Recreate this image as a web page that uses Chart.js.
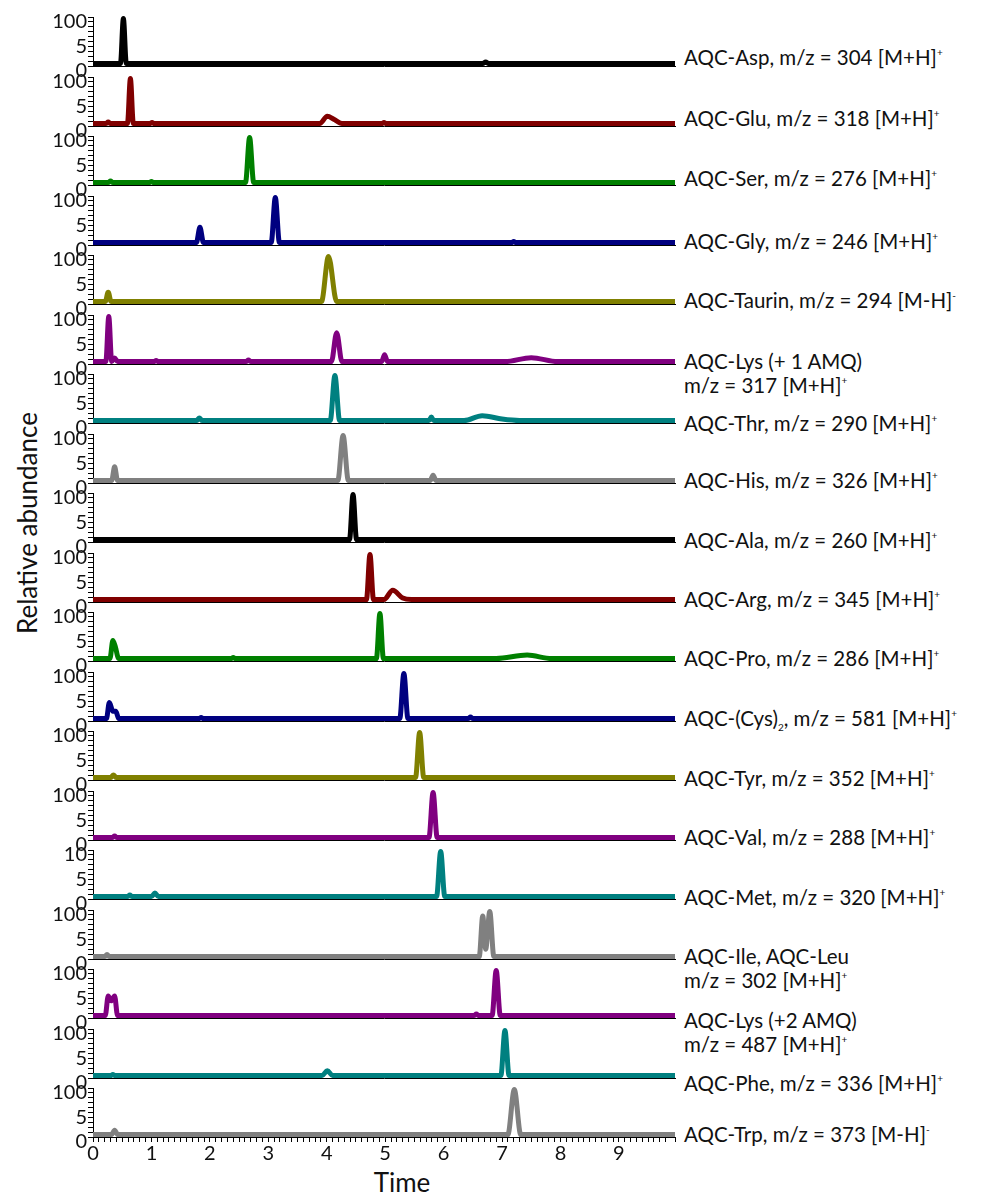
<!DOCTYPE html>
<html>
<head>
<meta charset="utf-8">
<script src="https://cdn.jsdelivr.net/npm/chart.js@4.4.1/dist/chart.umd.min.js"></script>
<style>
  body { margin: 0; background: #fff; font-family: Lato, sans-serif; }
  #wrap { position: relative; width: 989px; height: 1195px; overflow: hidden; }
  canvas { position: absolute; left: 0; }
  .lbl { position: absolute; left: 684px; font-size: 20.5px; line-height: 24px; color: #111; white-space: nowrap; }
  .lbl sup { font-size: 10px; position: relative; top: -9px; vertical-align: 0; }
  .lbl sub { font-size: 10px; position: relative; top: 5px; vertical-align: 0; }
  #ytitle { position: absolute; left: 27px; top: 523px; transform: translate(-50%, -50%) rotate(-90deg); font-size: 26px; color: #111; white-space: nowrap; }
  #xtitle { position: absolute; left: 402px; top: 1182px; transform: translate(-50%, -50%); font-size: 26px; color: #111; }
</style>
</head>
<body>
<div id="wrap">
  <div id="ytitle">Relative abundance</div>
  <div id="xtitle">Time</div>
</div>
<script>
// retention time (min) vs relative abundance (%), one list per trace
const asp = [[0,5],[0.47,5],[0.52,97],[0.57,5],[6.67,5],[6.72,8],[6.77,5],[9.96,5]];
const glu = [[0,5],[0.22,5],[0.26,8],[0.30,5],[0.59,5],[0.64,97],[0.69,5],[0.97,5],[1.01,7],[1.05,5],[3.88,5],[4.01,20],[4.12,14],[4.26,5],[4.94,5],[4.98,7],[5.02,5],[9.96,5]];
const ser = [[0,5],[0.26,5],[0.30,8],[0.34,5],[0.96,5],[1.00,7],[1.04,5],[2.61,5],[2.68,97],[2.75,5],[9.96,5]];
const gly = [[0,5],[1.77,5],[1.83,36],[1.89,5],[3.05,5],[3.12,97],[3.19,5],[7.16,5],[7.20,7],[7.24,5],[9.96,5]];
const taurin = [[0,5],[0.21,5],[0.26,24],[0.31,5],[3.91,5],[4.03,97],[4.17,5],[9.96,5]];
const lys1 = [[0,5],[0.22,5],[0.27,97],[0.32,5],[0.37,12],[0.42,5],[1.04,5],[1.08,7],[1.12,5],[2.62,5],[2.66,8],[2.70,5],[4.08,5],[4.17,64],[4.26,5],[4.94,5],[4.99,19],[5.04,5],[7.05,5],[7.50,13],[7.95,5],[9.96,5]];
const thr = [[0,5],[1.77,5],[1.82,10],[1.87,5],[4.06,5],[4.14,97],[4.22,5],[5.75,5],[5.79,12],[5.83,5],[6.35,5],[6.66,15],[7.00,8],[7.30,5],[9.96,5]];
const his = [[0,5],[0.32,5],[0.37,33],[0.42,5],[4.19,5],[4.28,97],[4.37,5],[5.77,5],[5.82,16],[5.87,5],[9.96,5]];
const ala = [[0,5],[4.39,5],[4.45,97],[4.51,5],[9.96,5]];
const arg = [[0,5],[4.68,5],[4.74,97],[4.80,5],[4.98,5],[5.13,24],[5.30,8],[5.45,5],[9.96,5]];
const pro = [[0,5],[0.29,5],[0.34,42],[0.38,30],[0.44,5],[2.36,5],[2.40,7],[2.44,5],[4.85,5],[4.91,97],[4.97,5],[6.90,5],[7.43,12],[7.85,5],[9.96,5]];
const cys = [[0,5],[0.23,5],[0.28,38],[0.34,20],[0.39,20],[0.44,5],[1.81,5],[1.85,7],[1.89,5],[5.25,5],[5.32,97],[5.39,5],[6.42,5],[6.46,8],[6.50,5],[9.96,5]];
const tyr = [[0,5],[0.30,5],[0.35,10],[0.40,5],[5.52,5],[5.59,97],[5.66,5],[9.96,5]];
const val = [[0,5],[0.33,5],[0.37,8],[0.41,5],[5.75,5],[5.82,97],[5.89,5],[9.96,5]];
const met = [[0,5],[0.59,5],[0.63,8],[0.67,5],[1.00,5],[1.06,12],[1.12,5],[5.88,5],[5.95,97],[6.02,5],[9.96,5]];
const ileLeu = [[0,5],[0.20,5],[0.24,9],[0.28,5],[6.61,5],[6.67,88],[6.72,20],[6.79,97],[6.86,5],[9.96,5]];
const lys2 = [[0,5],[0.21,5],[0.26,45],[0.31,35],[0.37,45],[0.42,5],[6.52,5],[6.56,8],[6.60,5],[6.83,5],[6.90,97],[6.97,5],[9.96,5]];
const phe = [[0,5],[0.30,5],[0.34,7],[0.38,5],[3.92,5],[4.01,15],[4.10,5],[6.98,5],[7.05,97],[7.12,5],[9.96,5]];
const trp = [[0,5],[0.32,5],[0.37,14],[0.42,5],[7.10,5],[7.21,97],[7.32,5],[9.96,5]];

const traces = [asp, glu, ser, gly, taurin, lys1, thr, his, ala, arg, pro, cys, tyr, val, met, ileLeu, lys2, phe, trp];

const names = [
  'AQC-Asp, m/z = 304 [M+H]<sup>+</sup>',
  'AQC-Glu, m/z = 318 [M+H]<sup>+</sup>',
  'AQC-Ser, m/z = 276 [M+H]<sup>+</sup>',
  'AQC-Gly, m/z = 246 [M+H]<sup>+</sup>',
  'AQC-Taurin, m/z = 294 [M-H]<sup>-</sup>',
  'AQC-Lys (+ 1 AMQ)<br>m/z = 317 [M+H]<sup>+</sup>',
  'AQC-Thr, m/z = 290 [M+H]<sup>+</sup>',
  'AQC-His, m/z = 326 [M+H]<sup>+</sup>',
  'AQC-Ala, m/z = 260 [M+H]<sup>+</sup>',
  'AQC-Arg, m/z = 345 [M+H]<sup>+</sup>',
  'AQC-Pro, m/z = 286 [M+H]<sup>+</sup>',
  'AQC-(Cys)<sub>2</sub>, m/z = 581 [M+H]<sup>+</sup>',
  'AQC-Tyr, m/z = 352 [M+H]<sup>+</sup>',
  'AQC-Val, m/z = 288 [M+H]<sup>+</sup>',
  'AQC-Met, m/z = 320 [M+H]<sup>+</sup>',
  'AQC-Ile, AQC-Leu<br>m/z = 302 [M+H]<sup>+</sup>',
  'AQC-Lys (+2 AMQ)<br>m/z = 487 [M+H]<sup>+</sup>',
  'AQC-Phe, m/z = 336 [M+H]<sup>+</sup>',
  'AQC-Trp, m/z = 373 [M-H]<sup>-</sup>'
];

// y tick labels at 100 / 50 / 0 as printed
const topTicks = ['100','100','100','100','100','100','100','100','100','100','100','100','100','100','10','100','100','100','100'];
const midTick = '5';
const zeroTick = '0';
const xTickMax = 9;

const colors = ['#000000','#800000','#008000','#000080','#808000','#800080','#008080','#808080',
                '#000000','#800000','#008000','#000080','#808000','#800080','#008080','#808080',
                '#800080','#008080','#808080'];

const wrap = document.getElementById('wrap');
const step = 59.5, firstTop = 12, areaH = 54, padTop = 8, padBot = 18, xAxisH = 30;
const labelShift = [-6,-5,-4,-1,-1,0,3,0,1,0,0,0,1,0,1,0,5,8,0];
const tickFont = { family: 'Lato', size: 20 };

traces.forEach((pts, i) => {
  const last = i === traces.length - 1;
  const top = Math.round(firstTop + i * step);
  const cv = document.createElement('canvas');
  cv.width = 680;
  cv.height = padTop + areaH + (last ? xAxisH : padBot);
  cv.style.top = (top - padTop) + 'px';
  wrap.appendChild(cv);

  new Chart(cv, {
    type: 'line',
    data: {
      datasets: [{
        data: pts.map(p => ({ x: p[0], y: p[1] })),
        borderColor: colors[i],
        borderWidth: 5,
        pointRadius: 0,
        cubicInterpolationMode: 'monotone',
        clip: false
      }]
    },
    options: {
      responsive: false,
      animation: false,
      layout: { padding: { top: padTop, bottom: last ? 0 : padBot, left: 0, right: 5 } },
      plugins: { legend: { display: false }, tooltip: { enabled: false } },
      scales: {
        x: {
          type: 'linear', min: 0, max: 9.96,
          border: { color: '#000', width: 1 },
          grid: { display: last, drawOnChartArea: false, tickLength: 5, color: '#000' },
          ticks: {
            display: last, stepSize: 0.1, autoSkip: false, maxRotation: 0, padding: 0,
            color: '#111', font: tickFont,
            callback: v => (Math.abs(v - Math.round(v)) < 1e-6 && Math.round(v) <= xTickMax) ? String(Math.round(v)) : ''
          },
          afterFit: s => { s.height = last ? xAxisH : 0; }
        },
        y: {
          min: 0, max: 100,
          border: { color: '#000', width: 1 },
          grid: { drawOnChartArea: false, tickLength: 5, color: '#000' },
          ticks: {
            stepSize: 10, autoSkip: false, padding: 1, labelOffset: 5,
            color: '#111', font: tickFont,
            callback: v => v === 100 ? topTicks[i] : v === 50 ? midTick : v === 0 ? zeroTick : ''
          },
          afterFit: s => { s.width = 93; }
        }
      }
    }
  });

  const lbl = document.createElement('div');
  lbl.className = 'lbl';
  lbl.innerHTML = names[i];
  lbl.style.top = (top + areaH - 3 + labelShift[i] - 12) + 'px';
  wrap.appendChild(lbl);
});
</script>
</body>
</html>
